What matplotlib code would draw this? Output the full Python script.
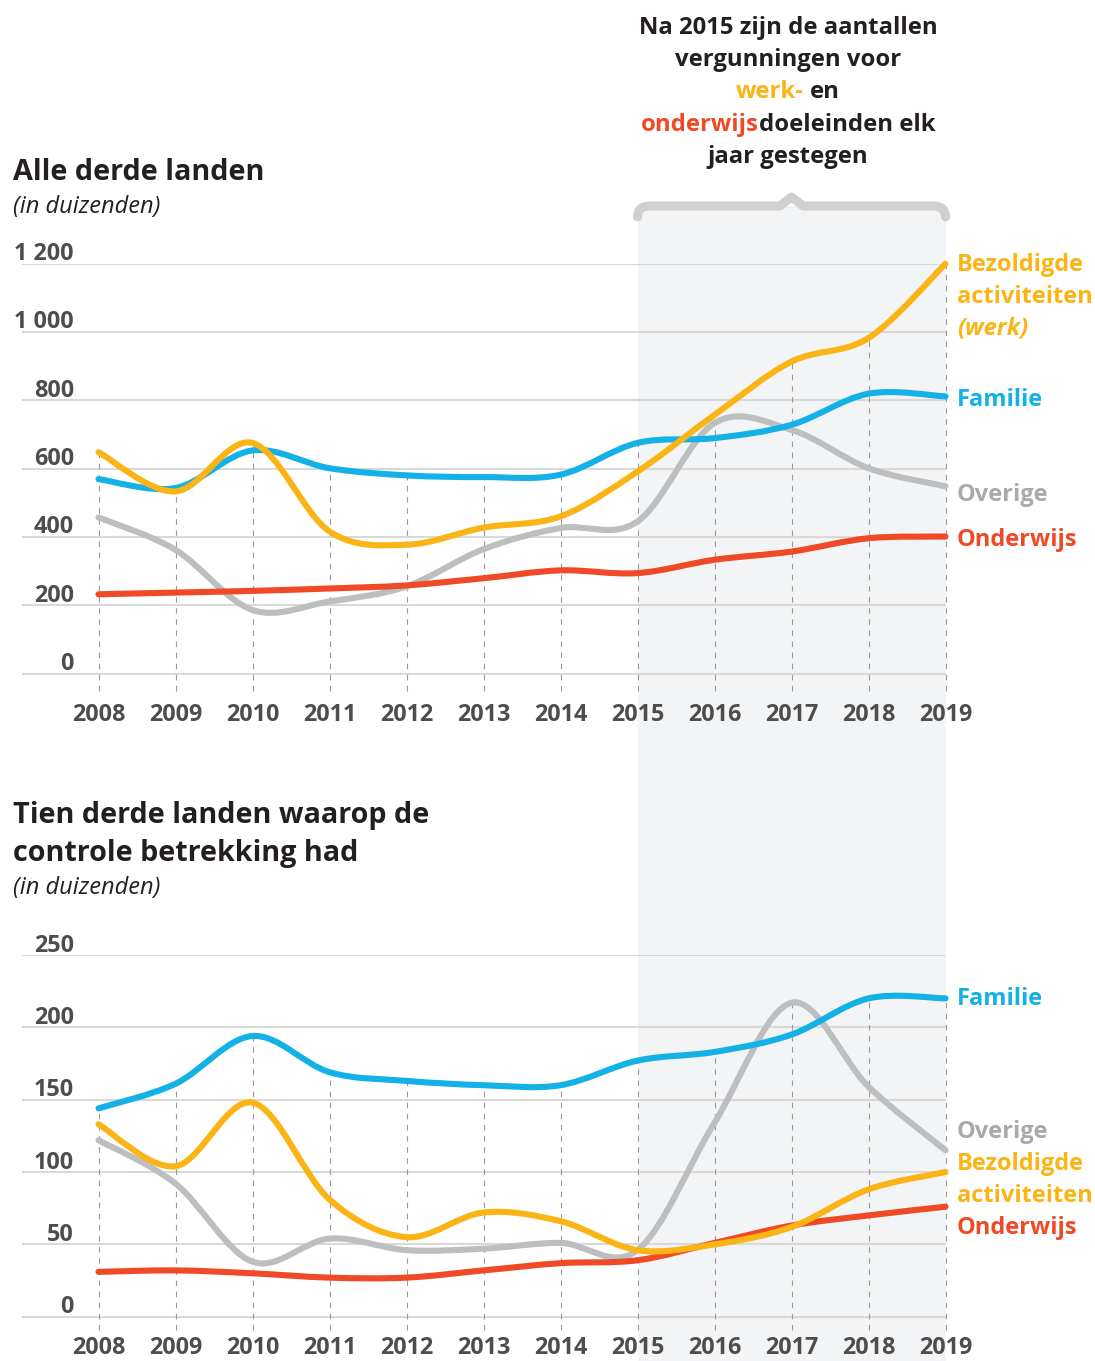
import matplotlib
matplotlib.use("Agg")
import matplotlib.pyplot as plt
from matplotlib.path import Path
from matplotlib.patches import PathPatch, Rectangle
from matplotlib.transforms import blended_transform_factory

plt.rcParams['font.family'] = ['Open Sans', 'DejaVu Sans']

years = list(range(2008, 2020))

# Alle derde landen (in duizenden)
all_werk = [648, 533, 675, 416, 377, 427, 460, 591, 757, 913, 982, 1199]
all_familie = [569, 543, 653, 601, 580, 575, 582, 675, 689, 728, 819, 811]
all_overige = [457, 362, 186, 211, 255, 364, 426, 445, 733, 713, 601, 548]
all_onderwijs = [232, 237, 242, 249, 258, 279, 302, 294, 333, 357, 396, 401]
all_ticks = [0, 200, 400, 600, 800, 1000, 1200]
all_ticklabels = ['0', '200', '400', '600', '800', '1 000', '1 200']

# Tien derde landen waarop de controle betrekking had (in duizenden)
tien_werk = [133, 104, 148, 81, 55, 72, 66, 46, 50, 62, 88, 100]
tien_familie = [144, 161, 194, 169, 163, 160, 160, 177, 183, 195, 220, 220]
tien_overige = [122, 92, 38, 54, 46, 47, 51, 46, 134, 217, 159, 115]
tien_onderwijs = [31, 32, 30, 27, 27, 32, 37, 39, 51, 63, 70, 76]
tien_ticks = [0, 50, 100, 150, 200, 250]
tien_ticklabels = ['0', '50', '100', '150', '200', '250']

YELLOW = '#FBB416'
BLUE = '#14B1E7'
GREY = '#BDBEC0'
RED = '#EF4A25'
TXT = '#231f20'
TICK = '#4d4d4d'

W, H = 1095, 1361
fig = plt.figure(figsize=(W / 100, H / 100), dpi=100)


def px(x, y):
    # pixel position (from top-left) -> figure fraction
    return x / W, 1 - y / H


def smooth_path(xs, ys):
    # Catmull-Rom through the yearly points, as cubic bezier segments
    pts = list(zip(xs, ys))
    verts = [pts[0]]
    codes = [Path.MOVETO]
    n = len(pts)
    for i in range(n - 1):
        p0 = pts[max(i - 1, 0)]
        p1 = pts[i]
        p2 = pts[i + 1]
        p3 = pts[min(i + 2, n - 1)]
        c1 = (p1[0] + (p2[0] - p0[0]) / 6, p1[1] + (p2[1] - p0[1]) / 6)
        c2 = (p2[0] - (p3[0] - p1[0]) / 6, p2[1] - (p3[1] - p1[1]) / 6)
        verts += [c1, c2, p2]
        codes += [Path.CURVE4] * 3
    return Path(verts, codes)


def draw_panel(ax, series, ticks, ticklabels, ymin, ymax, xlab_y):
    ax.set_xlim(2007, 2019)
    ax.set_ylim(ymin, ymax)
    ax.axis('off')
    ax.patch.set_visible(False)
    for t, lab in zip(ticks, ticklabels):
        ax.axhline(t, color='#d9d9d9', lw=1.5, zorder=1)
        ax.annotate(lab, (2007.68, t), xytext=(0, 2.5), textcoords='offset points',
                    ha='right', va='baseline', fontsize=16.8, fontweight='bold',
                    color=TICK)
    for i, yr in enumerate(years):
        top = max(s[0][i] for s in series)
        ax.plot([yr, yr], [ymin, top], color='#9a9a9a', lw=0.8,
                ls=(0, (5, 5)), zorder=2, clip_on=False)
        ax.text(yr, xlab_y, str(yr), ha='center', va='center', fontsize=16.8,
                fontweight='bold', color=TICK, clip_on=False)
    for vals, col in series:
        patch = PathPatch(smooth_path(years, vals), fill=False, edgecolor=col,
                          lw=4.4, capstyle='round', joinstyle='round',
                          zorder=3, clip_on=False)
        ax.add_patch(patch)


def mixed_line(xc, y, parts, gap=0, **kw):
    r = fig.canvas.get_renderer()
    texts = [fig.text(0, 1 - y / H, s, color=c, ha='left', va='center', **kw)
             for s, c in parts]
    widths = [t.get_window_extent(r).width for t in texts]
    total = sum(widths) + gap * (len(parts) - 1)
    x = xc - total / 2
    for t, w in zip(texts, widths):
        t.set_x(x / W)
        x += w + gap


# axes
ax1 = fig.add_axes([21.5 / W, (H - 691) / H, 924 / W, 427.5 / H])
ax2 = fig.add_axes([21.5 / W, (H - 1330) / H, 924 / W, 375 / H])

# shaded period after 2015 across both panels
tr = blended_transform_factory(ax1.transData, fig.transFigure)
fig.patches.append(Rectangle((2015, 0), 4, 1 - 206 / H, transform=tr,
                             facecolor='#f3f4f6', edgecolor='none', zorder=-1))
by = lambda y: 1 - y / H
brace = Path([(2015, by(217)), (2015, by(206)), (2015.15, by(206)),
              (2016.85, by(206)), (2017, by(197)), (2017.15, by(206)),
              (2018.85, by(206)), (2019, by(206)), (2019, by(217))],
             [Path.MOVETO, Path.CURVE3, Path.CURVE3, Path.LINETO, Path.LINETO,
              Path.LINETO, Path.LINETO, Path.CURVE3, Path.CURVE3])
fig.patches.append(PathPatch(brace, transform=tr, fill=False, edgecolor='#d0d0d0',
                             lw=6.5, joinstyle='round', capstyle='round', zorder=0))

draw_panel(ax1, [(all_overige, GREY), (all_onderwijs, RED), (all_familie, BLUE),
                 (all_werk, YELLOW)],
           all_ticks, all_ticklabels, -51, 1200, -121)
draw_panel(ax2, [(tien_overige, GREY), (tien_onderwijs, RED), (tien_familie, BLUE),
                 (tien_werk, YELLOW)],
           tien_ticks, tien_ticklabels, -9.2, 250, -21.6)

# series labels
lx = 2019.15
lab = dict(fontsize=17, fontweight='bold', ha='left', va='center', clip_on=False)
ax1.text(lx, 1197, 'Bezoldigde', color=YELLOW, **lab)
ax1.text(lx, 1103, 'activiteiten', color=YELLOW, **lab)
ax1.text(lx, 1009, '(werk)', color=YELLOW, style='italic', **lab)
ax1.text(lx, 801, 'Familie', color=BLUE, **lab)
ax1.text(lx, 523, 'Overige', color='#a7a9ac', **lab)
ax1.text(lx, 391, 'Onderwijs', color=RED, **lab)

ax2.text(lx, 219.6, 'Familie', color=BLUE, **lab)
ax2.text(lx, 127.7, 'Overige', color='#a7a9ac', **lab)
ax2.text(lx, 105.5, 'Bezoldigde', color=YELLOW, **lab)
ax2.text(lx, 83.4, 'activiteiten', color=YELLOW, **lab)
ax2.text(lx, 61.3, 'Onderwijs', color=RED, **lab)

# panel titles
title = dict(fontsize=20.7, fontweight='bold', color=TXT, va='center')
sub = dict(fontsize=17, style='italic', color=TXT, va='center')
fig.text(*px(13, 172), 'Alle derde landen', **title)
fig.text(*px(13, 207), '(in duizenden)', **sub)
fig.text(*px(13, 815), 'Tien derde landen waarop de', **title)
fig.text(*px(13, 853), 'controle betrekking had', **title)
fig.text(*px(13, 888), '(in duizenden)', **sub)

# annotation above the shaded period
ann = dict(fontsize=17.2, fontweight='bold')
mixed_line(788, 28, [('Na 2015 zijn de aantallen', TXT)], **ann)
mixed_line(788, 60, [('vergunningen voor', TXT)], **ann)
mixed_line(788, 92, [('werk-', YELLOW), ('en', TXT)], gap=6, **ann)
mixed_line(788, 125, [('onderwijs', RED), ('doeleinden elk', TXT)], **ann)
mixed_line(788, 157, [('jaar gestegen', TXT)], **ann)

fig.savefig('out.png', dpi=100)
